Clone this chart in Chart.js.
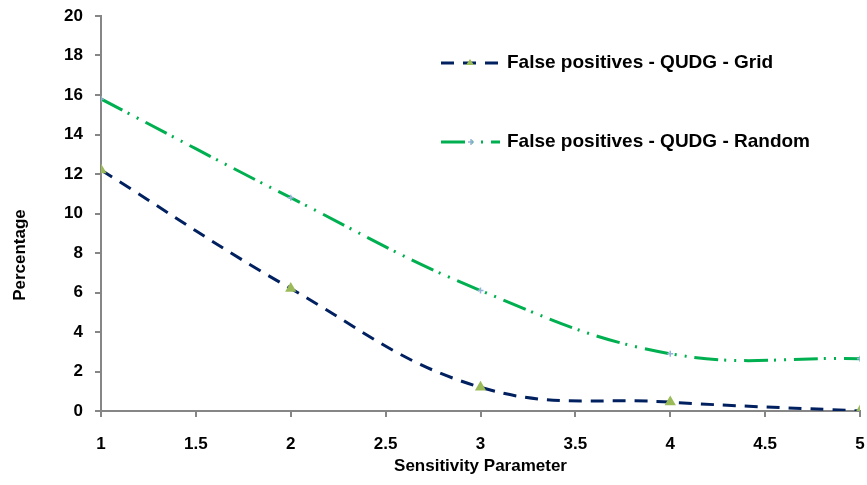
<!DOCTYPE html>
<html>
<head>
<meta charset="utf-8">
<script src="https://cdn.jsdelivr.net/npm/chart.js@4"></script>
<style>
  html, body { margin: 0; padding: 0; background: #fff; }
  #wrap { width: 867px; height: 485px; }
</style>
</head>
<body>
<div id="wrap"><canvas id="myChart" width="867" height="485"></canvas></div>
<script>
// values
const xValues = [1, 2, 3, 4, 5];
const gridValues = [12.2, 6.2, 1.2, 0.45, 0];
const randomValues = [15.8, 10.8, 6.1, 2.9, 2.65];
const seriesNames = ["False positives - QUDG - Grid", "False positives - QUDG - Random"];

const FONT = "'Liberation Sans', Arial, sans-serif";

// legend + y title drawn by hand so they sit where the original has them
const extrasPlugin = {
  id: "extras",
  afterDraw(chart) {
    const ctx = chart.ctx;
    const items = [
      { y: 63, color: "#002060", dash: [13, 9], marker: "tri" },
      { y: 142, color: "#00B050", dash: [24, 6, 2, 8, 2, 8], marker: "plus" },
    ];
    ctx.save();
    items.forEach((it, i) => {
      ctx.strokeStyle = it.color;
      ctx.lineWidth = 3;
      ctx.setLineDash(it.dash);
      ctx.beginPath();
      ctx.moveTo(441, it.y);
      ctx.lineTo(500, it.y);
      ctx.stroke();
      ctx.setLineDash([]);
      if (it.marker === "tri") {
        ctx.fillStyle = "#9BBB59";
        ctx.beginPath();
        ctx.moveTo(470, it.y - 4);
        ctx.lineTo(474, it.y + 2);
        ctx.lineTo(466, it.y + 2);
        ctx.closePath();
        ctx.fill();
      } else {
        ctx.strokeStyle = "#95B3D7";
        ctx.lineWidth = 1.5;
        ctx.beginPath();
        ctx.moveTo(468, it.y); ctx.lineTo(474, it.y);
        ctx.moveTo(471, it.y - 3); ctx.lineTo(471, it.y + 3);
        ctx.stroke();
      }
      ctx.fillStyle = "#000";
      ctx.font = "bold 19px " + FONT;
      ctx.textBaseline = "middle";
      ctx.fillText(seriesNames[i], 507, it.y);
    });

    // y axis title
    ctx.translate(20, 255);
    ctx.rotate(-Math.PI / 2);
    ctx.textAlign = "center";
    ctx.textBaseline = "middle";
    ctx.font = "bold 17px " + FONT;
    ctx.fillText("Percentage", 0, 0);
    ctx.restore();
  },
};

const ctx = document.getElementById("myChart").getContext("2d");
new Chart(ctx, {
  type: "line",
  data: {
    datasets: [
      {
        label: seriesNames[0],
        data: xValues.map((x, i) => ({ x: x, y: gridValues[i] })),
        borderColor: "#002060",
        borderWidth: 3,
        borderDash: [13, 9],
        pointStyle: "triangle",
        pointRadius: 3.5,
        pointBackgroundColor: "#9BBB59",
        pointBorderColor: "#9BBB59",
        tension: 0.4,
        fill: false,
      },
      {
        label: seriesNames[1],
        data: xValues.map((x, i) => ({ x: x, y: randomValues[i] })),
        borderColor: "#00B050",
        borderWidth: 3,
        borderDash: [24, 6, 2, 8, 2, 8],
        pointStyle: "cross",
        pointRadius: 3,
        pointBorderWidth: 1.5,
        pointBorderColor: "#95B3D7",
        pointBackgroundColor: "#95B3D7",
        tension: 0.4,
        fill: false,
      },
    ],
  },
  options: {
    responsive: false,
    animation: false,
    layout: { padding: { top: 16, right: 7, left: 0, bottom: 0 } },
    plugins: {
      legend: { display: false },
      tooltip: { enabled: false },
    },
    scales: {
      x: {
        type: "linear",
        min: 1,
        max: 5,
        ticks: {
          stepSize: 0.5,
          color: "#000",
          font: { family: FONT, size: 17, weight: "bold" },
          padding: 17,
          maxRotation: 0,
          callback: (v) => String(v),
        },
        grid: { drawOnChartArea: false, drawTicks: true, tickLength: 6, color: "#868686", lineWidth: 2 },
        border: { color: "#868686", width: 2 },
        title: {
          display: true,
          text: "Sensitivity Parameter",
          color: "#000",
          font: { family: FONT, size: 17, weight: "bold" },
          padding: { top: 0, bottom: 8 },
        },
        afterFit(scale) {
          scale.height = 74;
          scale.paddingLeft = 0;
          scale.paddingRight = 0;
        },
      },
      y: {
        min: 0,
        max: 20,
        ticks: {
          stepSize: 2,
          color: "#000",
          font: { family: FONT, size: 17, weight: "bold" },
          padding: 12,
          callback: (v) => String(v),
        },
        grid: { drawOnChartArea: false, drawTicks: true, tickLength: 6, color: "#868686", lineWidth: 2 },
        border: { color: "#868686", width: 2 },
        afterFit(scale) {
          scale.width = 101;
          scale.paddingTop = 0;
          scale.paddingBottom = 0;
        },
      },
    },
  },
  plugins: [extrasPlugin],
});
</script>
</body>
</html>
